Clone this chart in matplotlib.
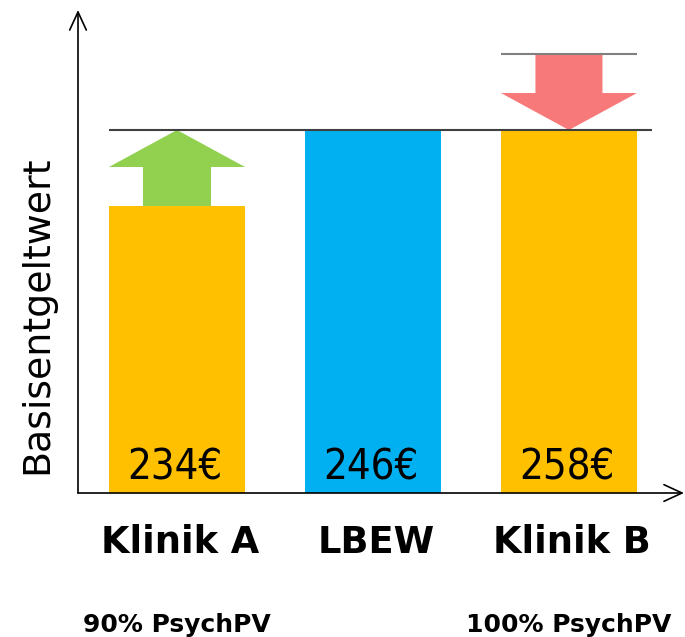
import matplotlib
matplotlib.use("Agg")
import matplotlib.pyplot as plt

# ---- data ----
categories = ["Klinik A", "LBEW", "Klinik B"]
bar_heights = [234, 246, 246]          # drawn bar heights (Klinik B capped at LBEW)
value_labels = [234, 246, 258]         # printed values in €
sub_labels = ["90% PsychPV", "", "100% PsychPV"]
bar_colors = ["#FFC000", "#00B0F0", "#FFC000"]
lbew_value = 246
klinik_a_value = 234
klinik_b_value = 258

W, H = 685, 637
fig = plt.figure(figsize=(W / 100, H / 100), dpi=100)
ax = fig.add_axes([78 / W, (H - 493) / H, (684 - 78) / W, (493 - 10) / H])

xs = list(range(len(categories)))
bw = 0.694
ax.bar(xs, bar_heights, width=bw, color=bar_colors, bottom=0, zorder=2)
ax.set_xlim(-0.505, 2.587)
ax.set_ylim(188.68, 264.95)

# reference lines
ax.hlines(lbew_value, xs[0] - bw / 2, xs[2] + bw / 2 + 0.077, color="#404040", lw=1.5, zorder=3)
ax.hlines(klinik_b_value, xs[2] - bw / 2, xs[2] + bw / 2, color="#808080", lw=1.5, zorder=3)

# arrows
ax.arrow(xs[0], klinik_a_value, 0, lbew_value - klinik_a_value, width=0.347, head_width=bw,
         head_length=5.84, length_includes_head=True, color="#92D050", lw=0, zorder=2)
ax.arrow(xs[2], klinik_b_value, 0, lbew_value - klinik_b_value, width=0.342, head_width=bw,
         head_length=5.84, length_includes_head=True, color="#F87979", lw=0, zorder=2)

# value labels
for x, v in zip(xs, value_labels):
    ax.annotate(f"{v}€", (x, 188.68), xytext=(-2, 14), textcoords="offset pixels",
                ha="center", va="baseline", fontsize=30, family="DejaVu Sans",
                fontstretch="condensed", zorder=4, annotation_clip=False)

# category labels
for x, c in zip(xs, categories):
    ax.annotate(c, (x, 188.68), xytext=(3, -60), textcoords="offset pixels",
                ha="center", va="baseline", fontsize=26.5, fontweight="bold",
                annotation_clip=False)
for x, s in zip(xs, sub_labels):
    if s:
        ax.annotate(s, (x, 188.68), xytext=(0, -139), textcoords="offset pixels",
                    ha="center", va="baseline", fontsize=18, fontweight="bold",
                    annotation_clip=False)

# axes with arrows
for s in ax.spines.values():
    s.set_visible(False)
ax.set_xticks([])
ax.set_yticks([])
ax.patch.set_alpha(0)
arrow_style = dict(arrowstyle="->,head_length=0.65,head_width=0.3", mutation_scale=20,
                   lw=1.2, color="black", shrinkA=0, shrinkB=0)
ax.annotate("", xy=(0, 1), xytext=(0, 0), xycoords="axes fraction",
            arrowprops=arrow_style, annotation_clip=False)
ax.annotate("", xy=(1, 0), xytext=(0, 0), xycoords="axes fraction",
            arrowprops=arrow_style, annotation_clip=False)

fig.text(37 / W, 1 - 315 / H, "Basisentgeltwert", rotation=90, ha="center", va="center",
         fontsize=27.3)

fig.savefig("out.png", dpi=100)
